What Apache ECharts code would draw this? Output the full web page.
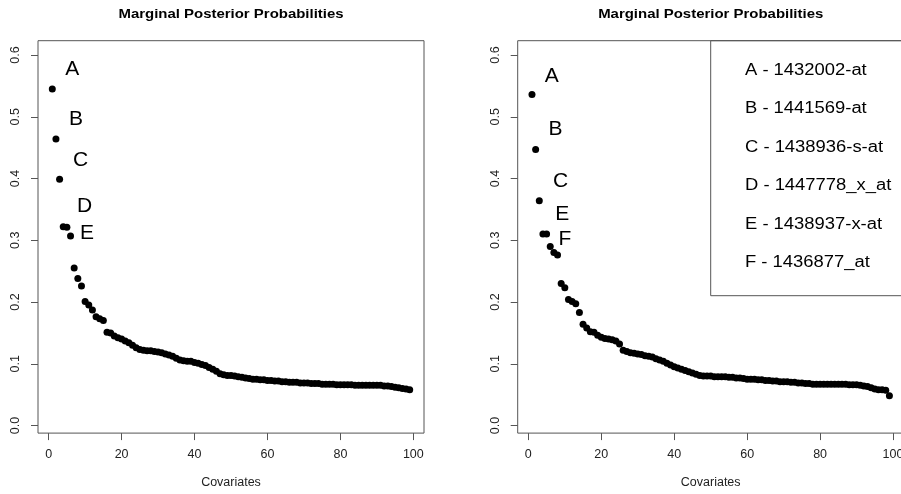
<!DOCTYPE html>
<html><head><meta charset="utf-8">
<script src="https://cdn.jsdelivr.net/npm/echarts@6/dist/echarts.min.js"></script>
<style>html,body{margin:0;padding:0;background:#fff}#c{width:901px;height:494px}</style>
</head><body><div id="c"></div>
<script>
const covariateRank = [1,2,3,4,5,6,7,8,9,10,11,12,13,14,15,16,17,18,19,20,21,22,23,24,25,26,27,28,29,30,31,32,33,34,35,36,37,38,39,40,41,42,43,44,45,46,47,48,49,50,51,52,53,54,55,56,57,58,59,60,61,62,63,64,65,66,67,68,69,70,71,72,73,74,75,76,77,78,79,80,81,82,83,84,85,86,87,88,89,90,91,92,93,94,95,96,97,98,99];
const probLeft = [0.545,0.464,0.399,0.322,0.321,0.307,0.255,0.238,0.226,0.201,
0.195,0.187,0.176,0.173,0.170,0.151,0.150,0.145,0.142,0.140,
0.137,0.134,0.130,0.126,0.123,0.122,0.121,0.121,0.120,0.119,
0.118,0.116,0.114,0.112,0.109,0.106,0.105,0.104,0.104,0.102,
0.101,0.099,0.097,0.094,0.091,0.088,0.084,0.082,0.081,0.081,
0.080,0.079,0.078,0.077,0.076,0.075,0.075,0.074,0.074,0.073,
0.073,0.072,0.072,0.071,0.071,0.070,0.070,0.070,0.069,0.069,
0.069,0.068,0.068,0.068,0.067,0.067,0.067,0.067,0.066,0.066,
0.066,0.066,0.066,0.065,0.065,0.065,0.065,0.065,0.065,0.065,
0.065,0.064,0.064,0.063,0.062,0.061,0.060,0.059,0.058];
const probRight = [0.536,0.447,0.364,0.310,0.310,0.290,0.280,0.276,0.230,0.223,
0.204,0.201,0.197,0.183,0.164,0.158,0.152,0.151,0.146,0.143,
0.141,0.140,0.139,0.137,0.132,0.122,0.120,0.118,0.117,0.116,
0.115,0.113,0.112,0.111,0.108,0.106,0.104,0.101,0.098,0.095,
0.093,0.091,0.089,0.087,0.085,0.083,0.081,0.080,0.080,0.080,
0.079,0.079,0.079,0.079,0.078,0.078,0.077,0.077,0.076,0.075,
0.075,0.075,0.074,0.074,0.073,0.073,0.072,0.072,0.071,0.071,
0.071,0.070,0.070,0.069,0.069,0.068,0.068,0.067,0.067,0.067,
0.067,0.067,0.067,0.067,0.067,0.067,0.067,0.066,0.066,0.066,
0.065,0.064,0.063,0.061,0.059,0.058,0.058,0.057,0.048];
const xTicks = [0,20,40,60,80,100];
const yTicks = [0,0.1,0.2,0.3,0.4,0.5,0.6];
const leftMarks = ['A','B','C','D','E'];
const leftMarkRank = [1,2,3,4,6];
const rightMarks = ['A','B','C','E','F'];
const rightMarkRank = [1,2,3,4,6];
const legendEntries = ['A - 1432002-at','B - 1441569-at','C - 1438936-s-at','D - 1447778_x_at','E - 1438937-x-at','F - 1436877_at'];
const titleText = 'Marginal Posterior Probabilities';
const xName = 'Covariates';

const FF = '"Liberation Sans", Arial, sans-serif';
const leftOffsets = [[20,-19.5],[20,-19.5],[21,-19],[21.4,-20],[16.4,-2.8]];
const rightOffsets = [[19.7,-18.5],[19.8,-19.8],[21.4,-19.3],[19.4,-20.2],[14.7,-7.5]];

function buildData(vals, marks, markRank, offsets) {
  return covariateRank.map((r, i) => {
    const item = { value: [r, vals[i]] };
    const k = markRank.indexOf(r);
    if (k >= 0) {
      item.label = { show: true, formatter: marks[k], position: 'inside', offset: offsets[k],
        color: '#000', fontSize: 21, fontFamily: FF, align: 'center', verticalAlign: 'middle' };
    }
    return item;
  });
}

function xAxisCfg(g) {
  return { type: 'value', gridIndex: g, min: -2.92, max: 102.92,
    axisLine: { show: false, onZero: false }, splitLine: { show: false },
    axisTick: { show: true, length: 7, customValues: xTicks, lineStyle: { color: '#555', width: 1 } },
    axisLabel: { customValues: xTicks, margin: 15, fontSize: 12.5, color: '#222', fontFamily: FF },
    name: xName, nameLocation: 'middle', nameGap: 43,
    nameTextStyle: { fontSize: 12.5, color: '#222', fontFamily: FF } };
}
function yAxisCfg(g) {
  return { type: 'value', gridIndex: g, min: -0.0123, max: 0.6232,
    axisLine: { show: false, onZero: false }, splitLine: { show: false },
    axisTick: { show: true, length: 7, customValues: yTicks, lineStyle: { color: '#555', width: 1 } },
    axisLabel: { customValues: yTicks, rotate: 90, margin: 16, fontSize: 12.5, color: '#222', fontFamily: FF,
      formatter: v => v.toFixed(1) } };
}

const graphics = [];
[231, 710.7].forEach(cx => graphics.push({ type: 'text', x: cx, y: 14, scaleX: 1.15,
  style: { text: titleText, font: 'bold 13px ' + FF, align: 'center', verticalAlign: 'middle', fill: '#000' } }));
graphics.push({ type: 'rect', shape: { x: 710.7, y: 40.7, width: 220, height: 255 },
  style: { fill: 'none', stroke: '#555', lineWidth: 1 } });
legendEntries.forEach((t, i) => graphics.push({ type: 'text', x: 745, y: 70.2 + i * 38.5, scaleX: 1.15,
  style: { text: t, font: '16px ' + FF, align: 'left', verticalAlign: 'middle', fill: '#000' } }));

const chart = echarts.init(document.getElementById('c'), null, { renderer: 'canvas' });
chart.setOption({
  animation: false,
  backgroundColor: '#fff',
  grid: [
    { left: 38, top: 40.7, width: 386, height: 392.4, show: true, borderColor: '#555', borderWidth: 1, backgroundColor: 'transparent', outerBoundsMode: 'none', containLabel: false },
    { left: 517.7, top: 40.7, width: 386, height: 392.4, show: true, borderColor: '#555', borderWidth: 1, backgroundColor: 'transparent', outerBoundsMode: 'none', containLabel: false }
  ],
  xAxis: [xAxisCfg(0), xAxisCfg(1)],
  yAxis: [yAxisCfg(0), yAxisCfg(1)],
  series: [
    { type: 'scatter', xAxisIndex: 0, yAxisIndex: 0, symbolSize: 7, itemStyle: { color: '#000', opacity: 1 },
      data: buildData(probLeft, leftMarks, leftMarkRank, leftOffsets) },
    { type: 'scatter', xAxisIndex: 1, yAxisIndex: 1, symbolSize: 7, itemStyle: { color: '#000', opacity: 1 },
      data: buildData(probRight, rightMarks, rightMarkRank, rightOffsets) }
  ],
  graphic: graphics
});
</script></body></html>
